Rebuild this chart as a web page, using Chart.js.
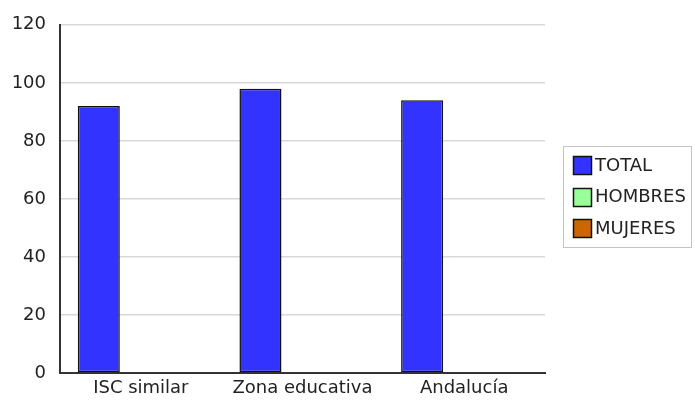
<!DOCTYPE html>
<html>
<head>
<meta charset="utf-8">
<script src="https://cdn.jsdelivr.net/npm/chart.js@4/dist/chart.umd.min.js"></script>
<style>
  html, body { margin: 0; padding: 0; background: #fff; }
  #wrap { width: 695px; height: 403px; position: relative; }
</style>
</head>
<body>
<div id="wrap"><canvas id="c" width="695" height="403"></canvas></div>
<script>
const categories = ["ISC similar", "Zona educativa", "Andalucía"];
const seriesNames = ["TOTAL", "HOMBRES", "MUJERES"];
const totalValues = [92, 98, 94];
const hombresValues = [0, 0, 0];
const mujeresValues = [0, 0, 0];
const seriesColors = ["#3333ff", "#99ff99", "#cc6600"];
const yTicks = [0, 20, 40, 60, 80, 100, 120];

const FONT = "'DejaVu Sans', Verdana, sans-serif";

const legendPlugin = {
  id: 'boxLegend',
  afterDraw(chart) {
    const ctx = chart.ctx;
    ctx.save();
    const bx = 563.5, by = 146.5, bw = 128, bh = 101;
    ctx.strokeStyle = '#c4c4c4';
    ctx.lineWidth = 1;
    ctx.strokeRect(bx, by, bw, bh);
    ctx.font = "18px " + FONT;
    ctx.textBaseline = 'middle';
    ctx.textAlign = 'left';
    chart.data.datasets.forEach((ds, i) => {
      const cy = 165 + i * 31.7;
      ctx.fillStyle = ds.backgroundColor;
      ctx.fillRect(573, Math.round(cy - 9), 19, 19);
      ctx.strokeStyle = '#111';
      ctx.lineWidth = 1.5;
      ctx.strokeRect(573.5, Math.round(cy - 9) + 0.5, 18, 18);
      ctx.fillStyle = '#222';
      ctx.fillText(ds.label, 595, cy + 1);
    });
    ctx.restore();
  }
};

const datasets = [totalValues, hombresValues, mujeresValues].map((vals, i) => ({
  label: seriesNames[i],
  data: vals,
  backgroundColor: seriesColors[i],
  borderColor: '#111',
  borderWidth: 1.5,
  borderSkipped: false,
  categoryPercentage: 0.78,
  barPercentage: 1.0
}));

new Chart(document.getElementById('c'), {
  type: 'bar',
  data: { labels: categories, datasets },
  plugins: [legendPlugin],
  options: {
    responsive: false,
    animation: false,
    devicePixelRatio: 1,
    layout: { padding: { top: 20, right: 150, left: 0, bottom: 0 } },
    plugins: { legend: { display: false }, tooltip: { enabled: false } },
    scales: {
      x: {
        grid: { display: false, drawTicks: false },
        border: { display: true, color: '#333', width: 2 },
        ticks: { color: '#222', font: { family: FONT, size: 18 }, padding: 5, maxRotation: 0 },
        afterFit(scale) { scale.height = 30; }
      },
      y: {
        min: 0, max: 120,
        afterBuildTicks(scale) { scale.ticks = yTicks.map(v => ({ value: v })); },
        grid: { color: '#d8d8d8', lineWidth: 1.5, drawTicks: false },
        border: { display: true, color: '#333', width: 2 },
        ticks: { color: '#222', font: { family: FONT, size: 18 }, padding: 14 },
        afterFit(scale) { scale.width = 60; }
      }
    }
  }
});
</script>
</body>
</html>
